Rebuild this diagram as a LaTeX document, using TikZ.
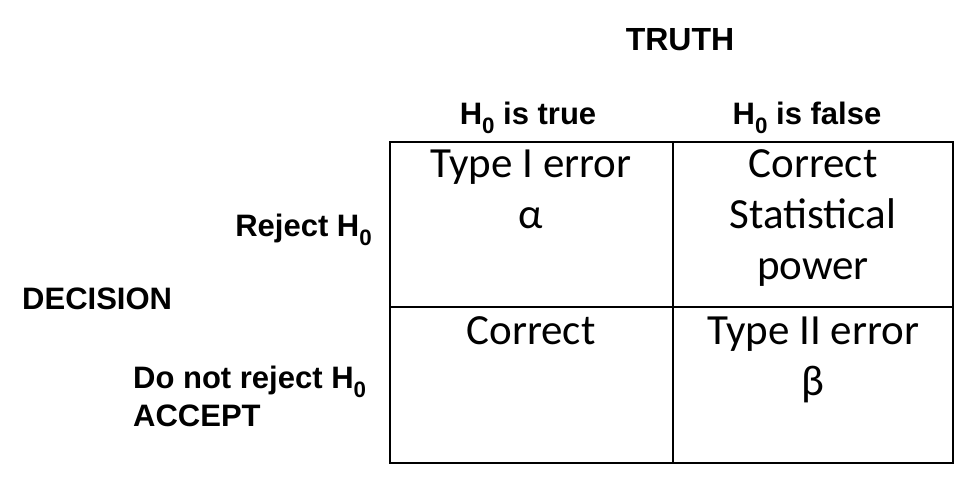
\documentclass[tikz,border=0pt]{standalone}
\usepackage{fontspec}
\setmainfont{Liberation Sans}
\newfontfamily\cellfont{Carlito}
\newcommand{\hsub}[1]{\raisebox{-0.28em}{\scalebox{0.72}{#1}}}
\begin{document}
\begin{tikzpicture}[x=1pt,y=-1pt,
  hdr/.style={font=\fontsize{31}{36}\selectfont\bfseries, inner sep=0pt},
  cell/.style={font=\cellfont\fontsize{43}{50}\selectfont, inner sep=0pt, align=center, text height=0.62em, text depth=0.15em},
  grid/.style={line width=1.6pt}]
\useasboundingbox (0,0) rectangle (970,478);
\node[hdr,font=\fontsize{32}{36}\selectfont\bfseries] (truth) at (680,40) {TRUTH};
\node[hdr] (htrue) at (528,118) {H\hsub{0} is true};
\node[hdr] (hfalse) at (807,118) {H\hsub{0} is false};
\node[hdr,anchor=east] (rej) at (372,230) {Reject H\hsub{0}};
\node[hdr,anchor=west] (dec) at (22,299) {DECISION};
\node[hdr,anchor=west] (dnr) at (133,382) {Do not reject H\hsub{0}};
\node[hdr,anchor=west] (acc) at (133,416) {ACCEPT};
\coordinate (tl) at (390,142); \coordinate (br) at (953,463);
\draw[grid] (tl) rectangle (br);
\coordinate (mt) at (673,142); \coordinate (mb) at (673,463);
\coordinate (ml) at (390,307); \coordinate (mr) at (953,307);
\draw[grid] (mt) -- (mb);
\draw[grid] (ml) -- (mr);
\node[cell] (c1) at (531,175) {Type I error};
\node[cell] (c1b) at (531,226) {α};
\node[cell] (c2) at (813,175) {Correct};
\node[cell] (c2b) at (813,226) {Statistical};
\node[cell] (c2c) at (813,277) {power};
\node[cell] (c3) at (531,342) {Correct};
\node[cell] (c4) at (813,342) {Type II error};
\node[cell] (c4b) at (813,393) {β};
\end{tikzpicture}
\end{document}
